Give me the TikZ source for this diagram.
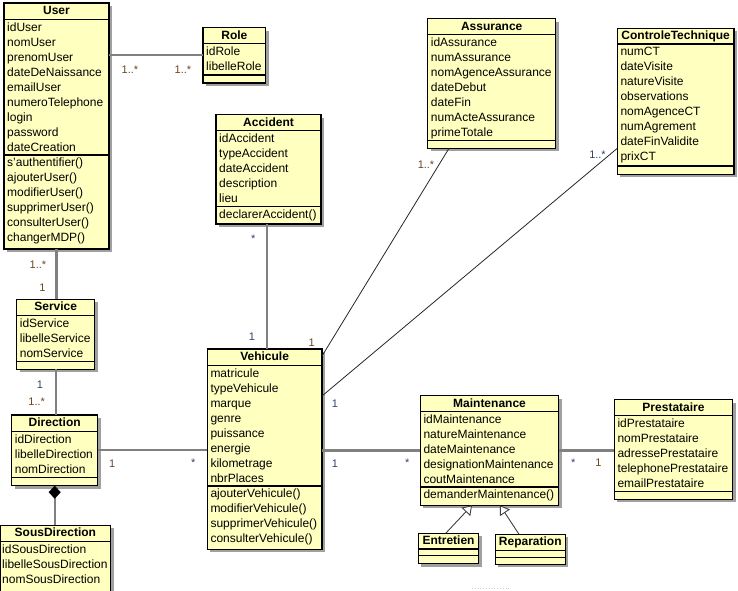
\documentclass[tikz,border=0pt]{standalone}
\usepackage{fontspec}
\setmainfont{Liberation Sans}
\usetikzlibrary{arrows.meta,calc}
\definecolor{boxfill}{HTML}{FFFFC0}
\definecolor{shadowc}{HTML}{A0A0A0}
\definecolor{linegray}{HTML}{808080}
\definecolor{multbrown}{HTML}{6B4520}
\definecolor{multblue}{HTML}{2E4468}
\tikzset{
 classbox/.style={draw=black, line width=1.2pt, fill=boxfill, inner sep=0pt, outer sep=0pt, rectangle},
 attrtext/.style={anchor=base west, inner sep=0pt, font=\fontsize{12}{14}\selectfont},
 titletext/.style={anchor=base, inner sep=0pt, font=\fontsize{12}{14}\selectfont\bfseries},
 mult/.style={inner sep=0pt, font=\fontsize{11}{12}\selectfont},
 multb/.style={mult, text=multbrown},
 multl/.style={mult, text=multblue},
 assoc/.style={draw=linegray, line width=2.2pt},
 thinassoc/.style={draw=black!85, line width=0.8pt},
 genline/.style={draw=black!75, line width=0.9pt, -{Triangle[open,length=9pt,width=12pt,fill=white]}},
}
% name, L, T, R, B, title sep, attr sep, title
\newcommand\umlbox[8]{%
 \fill[shadowc] (#2+3,#3+3) rectangle (#4+3,#5+3);
 \node[classbox, minimum width={(#4-#2)*1pt}, minimum height={(#5-#3)*1pt}] (#1) at ({(#2+#4)/2},{(#3+#5)/2}) {};
 \draw[line width=1.2pt] (#2,#6) -- (#4,#6);
 \draw[line width=1.2pt] (#2,#7) -- (#4,#7);
 \node[titletext] (#1-title) at ({(#2+#4)/2},{#3+11.3}) {#8};
}
% name, prefix, L, first baseline, list
\newcommand\umllist[5]{%
 \foreach \t [count=\i] in {#5} \node[attrtext] (#1-#2\i) at (#3+3,{#4+(\i-1)*15}) {\t};
}
\begin{document}
\begin{tikzpicture}[x=1pt,y=-1pt]
\useasboundingbox (0,0) rectangle (738,590);

% User
\umlbox{User}{4}{3}{109}{249}{19.3}{155}{User}
\umllist{User}{a}{4}{31.2}{idUser,nomUser,prenomUser,dateDeNaissance,emailUser,numeroTelephone,login,password,dateCreation}
\umllist{User}{m}{4}{166.9}{s'authentifier(),ajouterUser(),modifierUser(),supprimerUser(),consulterUser(),changerMDP()}

% Role
\umlbox{Role}{203}{27.7}{265.7}{83}{43.7}{75}{Role}
\umllist{Role}{a}{203}{55.6}{idRole,libelleRole}

% Accident
\umlbox{Accident}{216}{114.7}{321}{224}{130.7}{206.7}{Accident}
\umllist{Accident}{a}{216}{142.6}{idAccident,typeAccident,dateAccident,description,lieu}
\umllist{Accident}{m}{216}{218.6}{declarerAccident()}

% Assurance
\umlbox{Assurance}{427.7}{18.7}{555.7}{148.3}{34.3}{140.7}{Assurance}
\umllist{Assurance}{a}{427.7}{46.2}{idAssurance,numAssurance,nomAgenceAssurance,dateDebut,dateFin,numActeAssurance,primeTotale}

% ControleTechnique
\umlbox{CT}{617.3}{28.3}{734}{174.3}{44}{166}{ControleTechnique}
\umllist{CT}{a}{617.3}{55.9}{numCT,dateVisite,natureVisite,observations,nomAgenceCT,numAgrement,dateFinValidite,prixCT}

% Service
\umlbox{Service}{16.7}{299.3}{94.7}{369.3}{315.3}{361.7}{Service}
\umllist{Service}{a}{16.7}{327.2}{idService,libelleService,nomService}

% Direction
\umlbox{Direction}{11.7}{415}{97.7}{485.7}{431.3}{477.3}{Direction}
\umllist{Direction}{a}{11.7}{443.2}{idDirection,libelleDirection,nomDirection}

% SousDirection
\umlbox{SousDirection}{0}{525.3}{110.7}{597}{541.3}{596}{SousDirection}
\umllist{SousDirection}{a}{-1}{553.2}{idSousDirection,libelleSousDirection,nomSousDirection}

% Vehicule
\umlbox{Vehicule}{207.3}{349}{322}{549.3}{365.3}{486}{Vehicule}
\umllist{Vehicule}{a}{207.3}{377.2}{matricule,typeVehicule,marque,genre,puissance,energie,kilometrage,nbrPlaces}
\umllist{Vehicule}{m}{207.3}{497.9}{ajouterVehicule(),modifierVehicule(),supprimerVehicule(),consulterVehicule()}

% Maintenance
\umlbox{Maintenance}{420.3}{395.7}{558.7}{505.3}{411.3}{487}{Maintenance}
\umllist{Maintenance}{a}{420.3}{423.2}{idMaintenance,natureMaintenance,dateMaintenance,designationMaintenance,coutMaintenance}
\umllist{Maintenance}{m}{420.3}{498.9}{demanderMaintenance()}

% Prestataire
\umlbox{Prestataire}{614.3}{399.7}{732.7}{499.3}{415.3}{491.3}{Prestataire}
\umllist{Prestataire}{a}{614.3}{427.2}{idPrestataire,nomPrestataire,adressePrestataire,telephonePrestataire,emailPrestataire}

% Entretien, Reparation
\umlbox{Entretien}{418.3}{533.3}{478.7}{563.7}{549}{555.7}{Entretien}
\umlbox{Reparation}{495.3}{534.3}{565.3}{564.3}{550.3}{557.7}{Reparation}

% connectors
\draw[assoc] (Role.west -| User.east) -- (Role.west);
\draw[assoc] (User.south) -- (User.south |- Service.north);
\draw[assoc] (Service.south) -- (Service.south |- Direction.north);
\draw[assoc, {Diamond[length=13pt,width=12pt,line width=0.5pt,color=black,fill=black]}-] (Direction.south) -- (Direction.south |- SousDirection.north);
\draw[assoc] (Direction.east) -- (Direction.east -| Vehicule.west);
\coordinate (av) at ($(Vehicule.north)+(2,0)$);
\draw[assoc] (av) -- (av |- Accident.south);
\draw[assoc] (Maintenance.west) -- (Maintenance.west -| Vehicule.east);
\draw[assoc] (Maintenance.east) -- (Maintenance.east -| Prestataire.west);
\coordinate (asB) at ($(Assurance.south west)+(21.3,0)$);
\coordinate (veA) at ($(Vehicule.north east)+(0,7)$);
\draw[thinassoc] (asB) -- (veA);
\coordinate (ctB) at ($(CT.north west)+(0,120)$);
\coordinate (veC) at ($(Vehicule.north east)+(0,47)$);
\draw[thinassoc] (ctB) -- (veC);
\coordinate (enT) at ($(Entretien.north west)+(27.4,0)$);
\coordinate (maE) at ($(Maintenance.south west)+(51.7,0)$);
\draw[genline] (enT) -- (maE);
\coordinate (reT) at ($(Reparation.north west)+(23.7,0)$);
\coordinate (maR) at ($(Maintenance.south west)+(79.7,0)$);
\draw[genline] (reT) -- (maR);

% multiplicities
\node[multb] (m1) at (130,70) {1..*};
\node[multb] (m2) at (183,70) {1..*};
\node[multb] (m3) at (38,265) {1..*};
\node[multb] (m4) at (42.5,287.5) {1};
\node[multl] (m5) at (40,385) {1};
\node[multb] (m6) at (36.7,402) {1..*};
\node[multl] (m7) at (253.3,238.5) {*};
\node[multl] (m8) at (252,336.7) {1};
\node[multb] (m9) at (311.7,343) {1};
\node[multb] (m10) at (426,165) {1..*};
\node[multl] (m11) at (597.5,155) {1..*};
\node[multl] (m12) at (335,403.3) {1};
\node[multb] (m13) at (112.3,463.3) {1};
\node[multl] (m14) at (193.3,463) {*};
\node[multl] (m15) at (335,464) {1};
\node[multl] (m16) at (407.3,463) {*};
\node[multl] (m17) at (573.3,463) {*};
\node[multb] (m18) at (598.3,463) {1};

\draw[gray!40, dotted, line width=0.8pt] (472,588.5) -- (511,588.5);
\end{tikzpicture}
\end{document}
